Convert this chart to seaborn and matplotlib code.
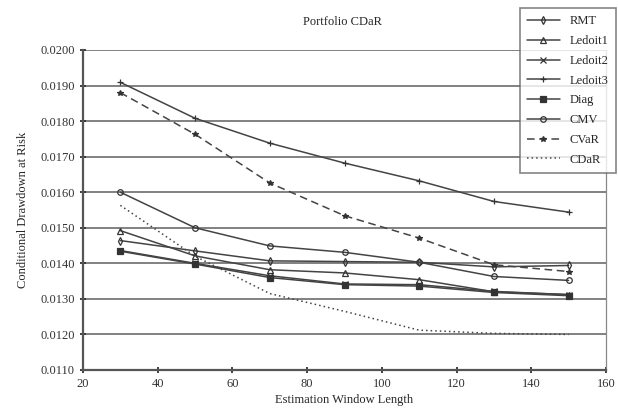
import matplotlib
matplotlib.use('Agg')
import matplotlib.pyplot as plt
import seaborn as sns
import pandas as pd

# estimation window lengths
window = [30, 50, 70, 90, 110, 130, 150]

# CDaR values
rmt = [0.01464, 0.01435, 0.01407, 0.01405, 0.01403, 0.01390, 0.01394]
ledoit1 = [0.01492, 0.01421, 0.01382, 0.01373, 0.01354, 0.01320, 0.01312]
ledoit2 = [0.01436, 0.01400, 0.01365, 0.01342, 0.01340, 0.01321, 0.01312]
ledoit3 = [0.01909, 0.01808, 0.01738, 0.01682, 0.01632, 0.01574, 0.01544]
diag = [0.01434, 0.01398, 0.01360, 0.01340, 0.01336, 0.01318, 0.01309]
cmv = [0.01600, 0.01500, 0.01449, 0.01431, 0.01403, 0.01363, 0.01352]
cvar = [0.01880, 0.01763, 0.01626, 0.01534, 0.01471, 0.01396, 0.01377]
cdar = [0.01563, 0.01420, 0.01315, 0.01265, 0.01212, 0.01203, 0.01200]

names = ['RMT', 'Ledoit1', 'Ledoit2', 'Ledoit3', 'Diag', 'CMV', 'CVaR', 'CDaR']
series = [rmt, ledoit1, ledoit2, ledoit3, diag, cmv, cvar, cdar]

rows = []
for name, vals in zip(names, series):
    for w, v in zip(window, vals):
        rows.append({'window': w, 'value': v, 'method': name})
df = pd.DataFrame(rows)

sns.set_style('white')
plt.rcParams['font.family'] = ['Liberation Serif', 'DejaVu Serif']

styles = {
    'RMT': dict(marker='d', ls='-', mfc='none'),
    'Ledoit1': dict(marker='^', ls='-', mfc='none'),
    'Ledoit2': dict(marker='x', ls='-', mfc='none'),
    'Ledoit3': dict(marker='+', ls='-', mfc='none'),
    'Diag': dict(marker='s', ls='-', mfc='#333333'),
    'CMV': dict(marker='o', ls='-', mfc='none'),
    'CVaR': dict(marker='*', ls=(0, (5, 3)), mfc='#333333'),
    'CDaR': dict(marker='', ls=(0, (1, 2)), mfc='none'),
}

fig = plt.figure(figsize=(6.18, 4.08), dpi=100)
ax = fig.add_axes([83 / 618, 1 - 370 / 408, (606 - 83) / 618, (370 - 50) / 408])

for name in names:
    st = styles[name]
    sub = df[df['method'] == name]
    sns.lineplot(data=sub, x='window', y='value', ax=ax, color='#444444',
                 linewidth=1.1, linestyle=st['ls'], marker=st['marker'] or None,
                 markersize=4, markerfacecolor=st['mfc'],
                 markeredgecolor='#333333', markeredgewidth=0.9, label=name)

ax.set_xlim(20, 160)
ax.set_ylim(0.0110, 0.0200)
ax.set_xticks(range(20, 161, 20))
ax.set_yticks([0.0110 + 0.001 * i for i in range(10)])
ax.set_yticklabels([f'{0.0110 + 0.001 * i:.4f}' for i in range(10)])
ax.yaxis.grid(True, color='#777777', linewidth=1.3)
ax.set_axisbelow(True)
for side in ['left', 'bottom']:
    ax.spines[side].set_color('#555555')
    ax.spines[side].set_linewidth(1.6)
ax.spines['right'].set_color('#888888')
ax.spines['right'].set_linewidth(0.9)
ax.spines['top'].set_visible(False)
ax.tick_params(axis='both', labelsize=9, colors='#333333', direction='inout',
               length=5, width=1.3, left=True, bottom=True)
ax.set_xlabel('Estimation Window Length', fontsize=9, labelpad=3)
ax.set_ylabel('Conditional Drawdown at Risk', fontsize=9, labelpad=8)
fig.text(0.555, 1 - 22 / 408, 'Portfolio CDaR', fontsize=9, ha='center', va='center')

ax.get_legend().remove()
handles, labels = ax.get_legend_handles_labels()
leg = fig.legend(handles, labels, loc='upper right', bbox_to_anchor=(616 / 618, 1 - 8 / 408),
                 borderaxespad=0, fontsize=9, labelspacing=0.62, handlelength=2.6,
                 frameon=True, fancybox=False, borderpad=0.6)
leg.get_frame().set_edgecolor('#666666')
leg.get_frame().set_linewidth(1.2)

plt.savefig('out.png', dpi=100)
